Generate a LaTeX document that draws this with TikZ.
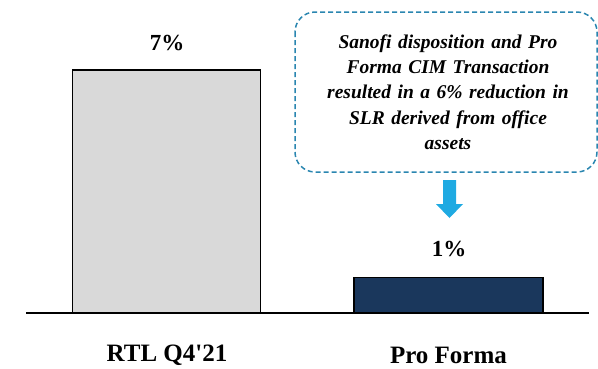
\documentclass[tikz,border=0pt]{standalone}
\usepackage{fontspec}
\setmainfont{Liberation Serif}[Ligatures=TeXOff]
\definecolor{barGray}{HTML}{D9D9D9}
\definecolor{barNavy}{HTML}{1A375C}
\definecolor{boxBlue}{HTML}{2A86B0}
\definecolor{arrBlue}{HTML}{1FAAE2}
\begin{document}
\begin{tikzpicture}[x=1pt,y=-1pt,
  bar/.style={draw=black,line width=1.3pt},
  val/.style={font=\bfseries\fontsize{23}{26}\selectfont,anchor=center,inner sep=0pt},
  cat/.style={font=\bfseries\fontsize{25}{28}\selectfont,anchor=center,inner sep=0pt},
  note/.style={draw=boxBlue,dashed,dash pattern=on 5pt off 3pt,line width=1.5pt,rounded corners=20pt},
  notetext/.style={font=\bfseries\itshape\fontsize{19.5}{25.3}\selectfont,align=center,inner sep=0pt,text width=300pt}
]
\useasboundingbox (0,0) rectangle (598,368);
\draw[bar,fill=barGray] (72.7,313) rectangle (260.7,70) coordinate (b1);
\draw[bar,fill=barNavy] (354,313) rectangle (543,277.5) coordinate (b2);
\draw[line width=1.5pt] (26,313) -- (589,313);
\node[val] (v1) at (167,43) {7\%};
\node[val] (v2) at (449,248.5) {1\%};
\node[cat] (c1) at (167,355) {RTL Q4'21};
\node[cat] (c2) at (448.5,355) {Pro Forma};
\draw[note] (295,12) rectangle (597,172);
\node[notetext] (t) at (448,92) {Sanofi disposition and Pro\\Forma CIM Transaction\\resulted in a 6\% reduction in\\SLR derived from office\\assets};
\fill[arrBlue] (443,180) -- (456,180) -- (456,204) -- (463,204) -- (449.5,218) -- (436,204) -- (443,204) -- cycle;
\end{tikzpicture}
\end{document}
